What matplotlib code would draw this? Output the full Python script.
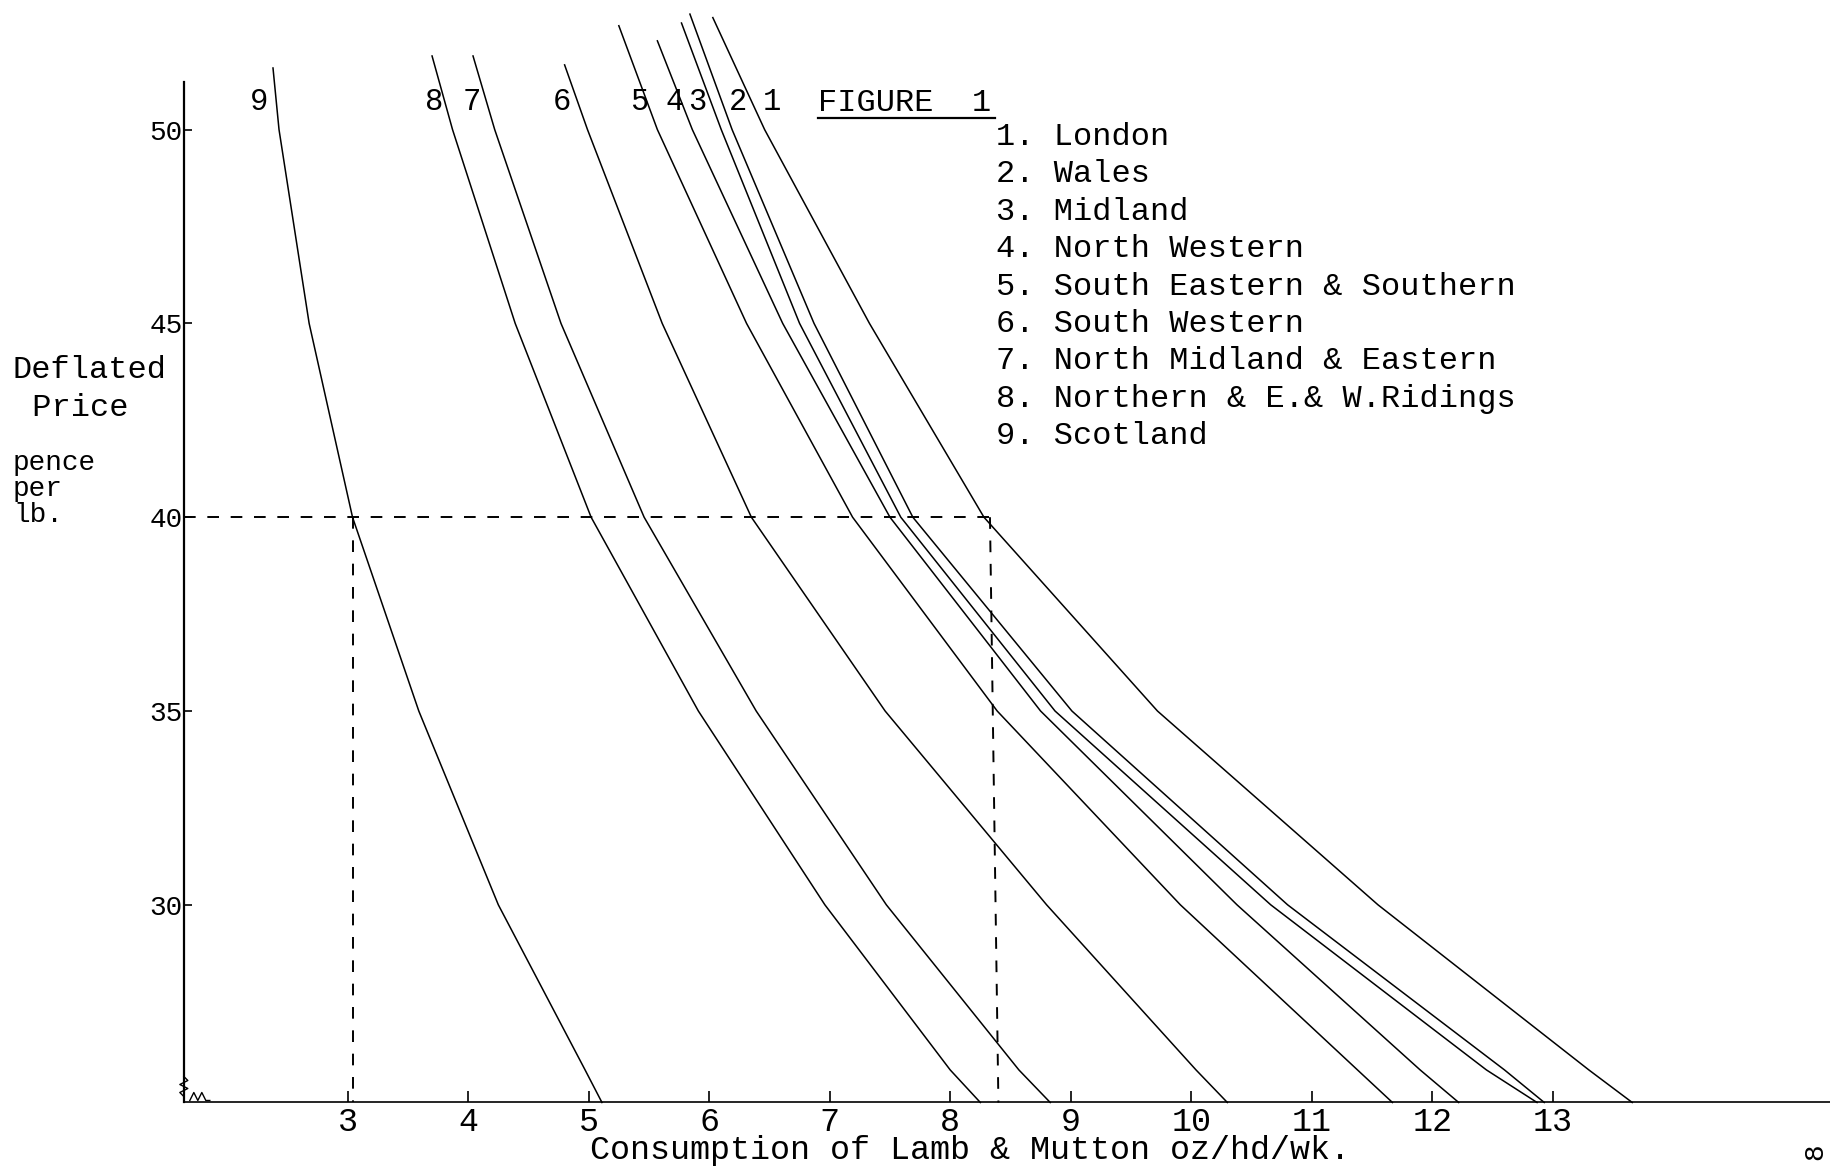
import matplotlib
matplotlib.use("Agg")
import matplotlib.pyplot as plt
import matplotlib.transforms as mtransforms

plt.rcParams['font.family'] = ['Liberation Mono', 'DejaVu Sans Mono']

W_PX, H_PX = 1831, 1169

# ---------------- data ----------------
region_names = ["London", "Wales", "Midland", "North Western",
                "South Eastern & Southern", "South Western",
                "North Midland & Eastern", "Northern & E.& W.Ridings",
                "Scotland"]
curve_numbers = ["1", "2", "3", "4", "5", "6", "7", "8", "9"]

# price levels (pence per lb) at which consumption was read
price_levels = [50, 45, 40, 35, 30, 25.74, 24.9]

# upper end of every curve (consumption, price)
top_consumption = [6.03, 5.84, 5.77, 5.57, 5.25, 4.80, 4.04, 3.70, 2.38]
top_price = [52.89, 52.98, 52.75, 52.29, 52.68, 51.67, 51.90, 51.90, 51.59]

cons_london = [6.46, 7.33, 8.28, 9.72, 11.55, 13.30, 13.66]
cons_wales = [6.19, 6.87, 7.69, 9.01, 10.80, 12.60, 12.93]
cons_midland = [6.10, 6.75, 7.59, 8.87, 10.66, 12.45, 12.87]
cons_north_western = [5.86, 6.61, 7.50, 8.75, 10.38, 11.90, 12.22]
cons_south_eastern = [5.57, 6.31, 7.19, 8.39, 9.91, 11.38, 11.67]
cons_south_western = [4.99, 5.61, 6.35, 7.46, 8.80, 10.04, 10.30]
cons_north_midland = [4.22, 4.77, 5.46, 6.39, 7.47, 8.57, 8.83]
cons_northern = [3.87, 4.39, 5.02, 5.91, 6.96, 8.00, 8.25]
cons_scotland = [2.43, 2.68, 3.04, 3.59, 4.25, 4.97, 5.11]

consumption_series = [cons_london, cons_wales, cons_midland, cons_north_western,
                      cons_south_eastern, cons_south_western, cons_north_midland,
                      cons_northern, cons_scotland]

x_ticks = [3, 4, 5, 6, 7, 8, 9, 10, 11, 12, 13]
y_ticks = [30, 35, 40, 45, 50]

ref_price = 40
ref_cons_scotland = 3.04
ref_cons_london_top = 8.33
ref_cons_london_bottom = 8.40

axis_price_min = 24.9
axis_price_max = 51.23
axis_cons_min = 1.64

# ---------------- figure ----------------
fig = plt.figure(figsize=(W_PX / 100, H_PX / 100), dpi=100)
fig.patch.set_facecolor("white")
ax = fig.add_axes([0, 0, 1, 1])
ax.patch.set_visible(False)
ax.set_xlim(0.1145, 15.3095)
ax.set_ylim(23.184, 53.344)

for s in ("top", "right"):
    ax.spines[s].set_visible(False)
ax.spines["left"].set_position(("data", axis_cons_min))
ax.spines["left"].set_bounds(axis_price_min, axis_price_max)
ax.spines["bottom"].set_position(("data", axis_price_min))
ax.spines["bottom"].set_bounds(axis_cons_min, 15.31)
ax.spines["left"].set_linewidth(1.6)
ax.spines["bottom"].set_linewidth(1.2)

ax.set_xticks(x_ticks)
ax.set_xticklabels([str(t) for t in x_ticks])
ax.set_yticks(y_ticks)
ax.set_yticklabels([str(t) for t in y_ticks])
ax.tick_params(axis="x", direction="in", length=8, width=1.2, labelsize=24, pad=3)
ax.tick_params(axis="y", direction="in", length=6, width=1.2, labelsize=20, pad=1)

# demand curves
for tc, tp, cons in zip(top_consumption, top_price, consumption_series):
    ax.plot([tc] + cons, [tp] + price_levels, color="black", lw=1.1,
            clip_on=False, solid_joinstyle="round")

# dashed reference lines
dash = (0, (6, 6))
ax.plot([axis_cons_min, ref_cons_london_top], [ref_price, ref_price],
        color="black", lw=1.4, ls=dash)
ax.plot([ref_cons_scotland, ref_cons_scotland], [ref_price, axis_price_min],
        color="black", lw=1.4, ls=dash)
ax.plot([ref_cons_london_top, ref_cons_london_bottom], [ref_price, axis_price_min],
        color="black", lw=1.4, ls=dash)


def ftext(px, py, s, **kw):
    return fig.text(px / W_PX, 1 - py / H_PX, s, **kw)


# axis titles
ftext(13, 370, "Deflated", fontsize=23, va="center", ha="left")
ftext(13, 408, " Price", fontsize=23, va="center", ha="left")
ftext(13, 463, "pence", fontsize=20, va="center", ha="left")
ftext(13, 489, "per", fontsize=20, va="center", ha="left")
ftext(13, 515, "lb.", fontsize=20, va="center", ha="left")
ftext(970, 1150, "Consumption of Lamb & Mutton oz/hd/wk.", fontsize=24,
      va="center", ha="center")

# figure title and key
ftext(818, 103, "FIGURE  1", fontsize=23, va="center", ha="left")
fig.add_artist(plt.Line2D([818 / W_PX, 995 / W_PX], [1 - 118 / H_PX, 1 - 118 / H_PX],
                          color="black", lw=1.6))
for i, (num, name) in enumerate(zip(curve_numbers, region_names)):
    ftext(996, 137 + 37.4 * i, f"{num}. {name}", fontsize=23, va="center", ha="left")

# curve number labels at top
label_px = [772, 738, 697, 675, 639, 562, 472, 434, 259]
for num, px in zip(curve_numbers, label_px):
    ftext(px, 102, num, fontsize=22, va="center", ha="center")

# page number at the right edge
ftext(1815, 1152, "8", fontsize=20, va="center", ha="center", rotation=90)

# small axis-break squiggles near the origin (drawn in pixel offsets)
ox, oy = ax.transData.transform((axis_cons_min, axis_price_min))
pix = mtransforms.Affine2D().translate(ox, oy)
ax.plot([6, 10, 14, 18, 22, 26], [2, 10, 2, 10, 2, 2], color="black", lw=1.0,
        transform=pix, clip_on=False)
ax.plot([0, -4, 4, -4, 4, 0], [6, 10, 14, 18, 22, 26], color="black", lw=1.0,
        transform=pix, clip_on=False)

fig.savefig("out.png", dpi=100, facecolor="white")
